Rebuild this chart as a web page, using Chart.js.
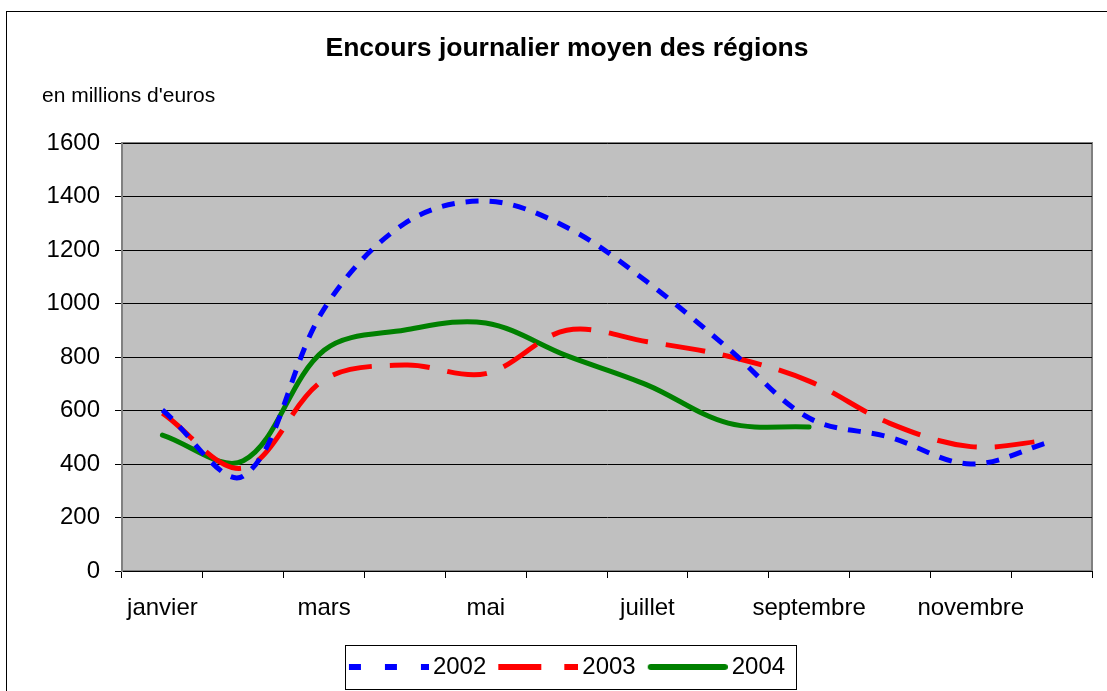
<!DOCTYPE html>
<html>
<head>
<meta charset="utf-8">
<script src="https://cdn.jsdelivr.net/npm/chart.js"></script>
<style>
  body { margin: 0; background: #fff; }
  #wrap { width: 1107px; height: 691px; }
</style>
</head>
<body>
<div id="wrap"><canvas id="mycanvas"></canvas></div>
<script>
var mois = ["janvier", "février", "mars", "avril", "mai", "juin",
            "juillet", "août", "septembre", "octobre", "novembre", "décembre"];
var v2002 = [602, 355, 980, 1300, 1383, 1285, 1080, 832, 572, 500, 400, 485];
var v2003 = [590, 385, 715, 770, 738, 900, 857, 803, 710, 552, 465, 490];
var v2004 = [508, 412, 825, 901, 927, 805, 695, 553, 538];
var yTicks = [0, 200, 400, 600, 800, 1000, 1200, 1400, 1600];

// petit trait de légende (pointillés comme la courbe)
function trait(color, dash, cap) {
  var c = document.createElement("canvas");
  c.width = 88; c.height = 8;
  var g = c.getContext("2d");
  g.strokeStyle = color;
  g.lineWidth = 6;
  g.lineCap = cap || "butt";
  g.setLineDash(dash);
  g.beginPath();
  g.moveTo(cap ? 11 : 8, 4);
  g.lineTo(cap ? 85 : 88, 4);
  g.stroke();
  return c;
}

// fond gris et cadres
var cadre = {
  id: "cadre",
  beforeDraw: function(chart) {
    var ctx = chart.ctx, a = chart.chartArea;
    ctx.save();
    ctx.strokeStyle = "#000";
    ctx.lineWidth = 1;
    ctx.strokeRect(6.5, 11.5, 1300, 1000);
    ctx.fillStyle = "#c0c0c0";
    ctx.fillRect(a.left, a.top, a.right - a.left, a.bottom - a.top);
    ctx.strokeStyle = "#808080";
    ctx.lineWidth = 2;
    ctx.strokeRect(a.left, a.top, a.right - a.left, a.bottom - a.top);
    ctx.restore();
  },
  afterDraw: function(chart) {
    var ctx = chart.ctx;
    ctx.save();
    ctx.strokeStyle = "#000";
    ctx.lineWidth = 1;
    ctx.strokeRect(345.5, 645.5, 451, 44);
    ctx.restore();
  }
};

var ctx = document.getElementById("mycanvas");
var chart = new Chart(ctx, {
  type: "line",
  data: {
    labels: mois,
    datasets: [
      { label: "2002", data: v2002, borderColor: "#0000ff", backgroundColor: "#0000ff",
        borderWidth: 5, borderDash: [13, 11], fill: false,
        pointStyle: trait("#0000ff", [12, 24]) },
      { label: "2003", data: v2003, borderColor: "#ff0000", backgroundColor: "#ff0000",
        borderWidth: 5, borderDash: [40, 18], fill: false,
        pointStyle: trait("#ff0000", [43, 23]) },
      { label: "2004", data: v2004, borderColor: "#008000", backgroundColor: "#008000",
        borderWidth: 5, borderCapStyle: "round", fill: false,
        pointStyle: trait("#008000", [], "round") }
    ]
  },
  options: {
    responsive: true,
    maintainAspectRatio: false,
    animation: false,
    events: [],
    layout: { padding: { left: 42, right: 15, top: 0, bottom: 2 } },
    elements: { point: { radius: 0 }, line: { tension: 0.35 } },
    scales: {
      x: {
        type: "category",
        offset: true,
        grid: { offset: true, drawOnChartArea: false, tickLength: 7, tickColor: "#000" },
        border: { color: "#000", width: 1 },
        ticks: {
          autoSkip: false, maxRotation: 0, padding: 16, color: "#000",
          font: { family: "Liberation Sans", size: 24 },
          callback: function(v, i) { return i % 2 === 0 ? mois[i] : ""; }
        },
        afterFit: function(s) { s.height = 72; }
      },
      y: {
        min: 0, max: 1600,
        afterBuildTicks: function(s) { s.ticks = yTicks.map(function(v) { return { value: v }; }); },
        grid: { color: "#000", tickColor: "#000", tickLength: 7 },
        border: { color: "#808080", width: 2 },
        ticks: {
          padding: 15, color: "#000", font: { family: "Liberation Sans", size: 24 },
          callback: function(v) { return String(v); }
        },
        afterFit: function(s) { s.width = 80; }
      }
    },
    plugins: {
      title: {
        display: true, text: "Encours journalier moyen des régions", color: "#000",
        font: { family: "Liberation Sans", size: 26.5, weight: "bold" },
        padding: { top: 33, bottom: 0 }
      },
      subtitle: {
        display: true, text: "en millions d'euros", align: "start", color: "#000",
        font: { family: "Liberation Sans", size: 21, weight: "normal" },
        padding: { top: 19, bottom: 34 }
      },
      legend: {
        position: "bottom",
        labels: {
          usePointStyle: true, pointStyleWidth: 72, boxHeight: 8,
          color: "#000", padding: 12,
          font: { family: "Liberation Sans", size: 24 }
        }
      },
      tooltip: { enabled: false }
    }
  },
  plugins: [cadre]
});
</script>
</body>
</html>
